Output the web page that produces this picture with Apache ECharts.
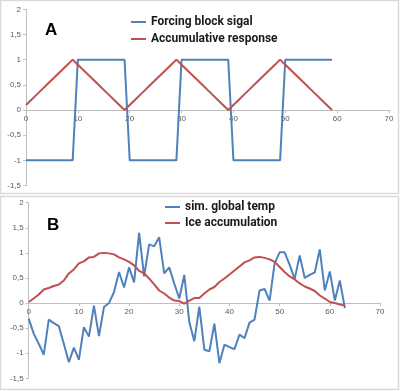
<!DOCTYPE html>
<html>
<head>
<meta charset="utf-8">
<script src="https://cdn.jsdelivr.net/npm/echarts@6/dist/echarts.min.js"></script>
<style>
html,body{margin:0;padding:0;background:#fff;}
#c{width:400px;height:391px;}
</style>
</head>
<body>
<div id="c"></div>
<script>
// Panel A
const forcingA = [-1,-1,-1,-1,-1,-1,-1,-1,-1,-1, 1,1,1,1,1,1,1,1,1,1, -1,-1,-1,-1,-1,-1,-1,-1,-1,-1, 1,1,1,1,1,1,1,1,1,1, -1,-1,-1,-1,-1,-1,-1,-1,-1,-1, 1,1,1,1,1,1,1,1,1,1];
const responseA = [0.1,0.2,0.3,0.4,0.5,0.6,0.7,0.8,0.9,1.0, 0.9,0.8,0.7,0.6,0.5,0.4,0.3,0.2,0.1,0.0, 0.1,0.2,0.3,0.4,0.5,0.6,0.7,0.8,0.9,1.0, 0.9,0.8,0.7,0.6,0.5,0.4,0.3,0.2,0.1,0.0, 0.1,0.2,0.3,0.4,0.5,0.6,0.7,0.8,0.9,1.0, 0.9,0.8,0.7,0.6,0.5,0.4,0.3,0.2,0.1,0.0];
// Panel B
const tempB = [-0.31,-0.61,-0.81,-1.03,-0.33,-0.40,-0.46,-0.81,-1.18,-0.89,-1.13,-0.48,-0.67,-0.05,-0.66,-0.08,0.0,0.22,0.62,0.31,0.71,0.41,1.40,0.53,1.17,1.13,1.31,0.59,0.71,0.39,0.09,0.56,-0.38,-0.76,-0.07,-0.93,-0.96,-0.41,-1.20,-0.83,-0.88,-0.92,-0.63,-0.70,-0.39,-0.33,0.25,0.28,0.05,0.79,1.01,1.01,0.76,0.48,0.95,0.50,0.56,0.61,1.07,0.25,0.63,0.05,0.45,-0.10];
const iceB = [0.02,0.09,0.17,0.27,0.30,0.34,0.37,0.45,0.59,0.67,0.79,0.83,0.91,0.92,0.99,1.00,0.99,0.97,0.91,0.87,0.82,0.75,0.64,0.59,0.49,0.37,0.25,0.19,0.11,0.05,0.04,-0.01,0.05,0.10,0.10,0.19,0.27,0.32,0.42,0.49,0.57,0.65,0.73,0.81,0.85,0.91,0.92,0.90,0.87,0.82,0.72,0.62,0.53,0.47,0.39,0.33,0.29,0.24,0.15,0.09,0.02,0.00,-0.03,-0.05];
const xTicks = [0,10,20,30,40,50,60,70];
const yTicks = ['2','1,5','1','0,5','0','-0,5','-1','-1,5'];

const toPairs = arr => arr.map((v,i)=>[i,v]);
const fmtY = v => String(v).replace('.', ',');

const Y_MIN=-1.5, Y_MAX=2;
const grids=[
  {left:26,right:11,top:9.3,bottom:205.5},
  {left:28.7,right:20,top:202.7,bottom:12.7}
];
function zeroOffset(g){
  const h = 391 - g.top - g.bottom;
  return -h * (0 - Y_MIN) / (Y_MAX - Y_MIN);
}
function xAxisOf(gi){
  return {gridIndex:gi,type:'value',min:0,max:70,interval:10,position:'bottom',
    offset:zeroOffset(grids[gi]),
    axisLine:{onZero:false,lineStyle:{color:'#bfbfbf',width:1}},
    axisTick:{show:true,length:3,lineStyle:{color:'#bfbfbf'}},
    axisLabel:{color:'#595959',fontSize:8,fontFamily:'Liberation Sans, Arial',margin:5},
    splitLine:{show:false}};
}
function yAxisOf(gi){
  return {gridIndex:gi,type:'value',min:Y_MIN,max:Y_MAX,interval:0.5,
    axisLine:{show:true,onZero:false,lineStyle:{color:'#bfbfbf',width:1}},
    axisTick:{show:true,length:3,lineStyle:{color:'#bfbfbf'}},
    axisLabel:{color:'#595959',fontSize:8,fontFamily:'Liberation Sans, Arial',margin:5,formatter:fmtY},
    splitLine:{show:false}};
}
const blue='#4f81bd', red='#c0504d';
const legendText={color:'#1a1a1a',fontSize:12,fontWeight:'bold',fontFamily:'Roboto, sans-serif'};

const chart = echarts.init(document.getElementById('c'),null,{renderer:'canvas'});
chart.setOption({
  animation:false,
  backgroundColor:'#fff',
  title:[
    {text:'A',left:40,top:17,textStyle:{fontSize:17,fontWeight:'bold',color:'#000',fontFamily:'Liberation Sans, Arial'}},
    {text:'B',left:42,top:212,textStyle:{fontSize:17,fontWeight:'bold',color:'#000',fontFamily:'Liberation Sans, Arial'}}
  ],
  legend:[
    {orient:'vertical',left:131,top:16,itemWidth:15,itemHeight:2,itemGap:5,icon:'rect',
     data:['Forcing block sigal','Accumulative response'],textStyle:legendText,padding:0,
     itemStyle:{borderWidth:0}},
    {orient:'vertical',left:165,top:201,itemWidth:15,itemHeight:2,itemGap:4,icon:'rect',
     data:['sim. global temp','Ice accumulation'],textStyle:legendText,padding:0,
     itemStyle:{borderWidth:0}}
  ],
  grid:grids,
  xAxis:[xAxisOf(0),xAxisOf(1)],
  yAxis:[yAxisOf(0),yAxisOf(1)],
  graphic:[
    {type:'rect',shape:{x:0.5,y:0.5,width:398,height:193},style:{fill:'none',stroke:'#d9d9d9',lineWidth:1.5},silent:true,z:-1},
    {type:'rect',shape:{x:0.5,y:196.5,width:398,height:193},style:{fill:'none',stroke:'#d9d9d9',lineWidth:1.5},silent:true,z:-1}
  ],
  series:[
    {name:'Forcing block sigal',type:'line',xAxisIndex:0,yAxisIndex:0,data:toPairs(forcingA),symbol:'none',lineStyle:{color:blue,width:2},itemStyle:{color:blue}},
    {name:'Accumulative response',type:'line',xAxisIndex:0,yAxisIndex:0,data:toPairs(responseA),symbol:'none',lineStyle:{color:red,width:2},itemStyle:{color:red}},
    {name:'sim. global temp',type:'line',xAxisIndex:1,yAxisIndex:1,data:toPairs(tempB),symbol:'none',lineStyle:{color:blue,width:2},itemStyle:{color:blue}},
    {name:'Ice accumulation',type:'line',xAxisIndex:1,yAxisIndex:1,data:toPairs(iceB),symbol:'none',lineStyle:{color:red,width:2},itemStyle:{color:red}}
  ]
});
</script>
</body>
</html>
